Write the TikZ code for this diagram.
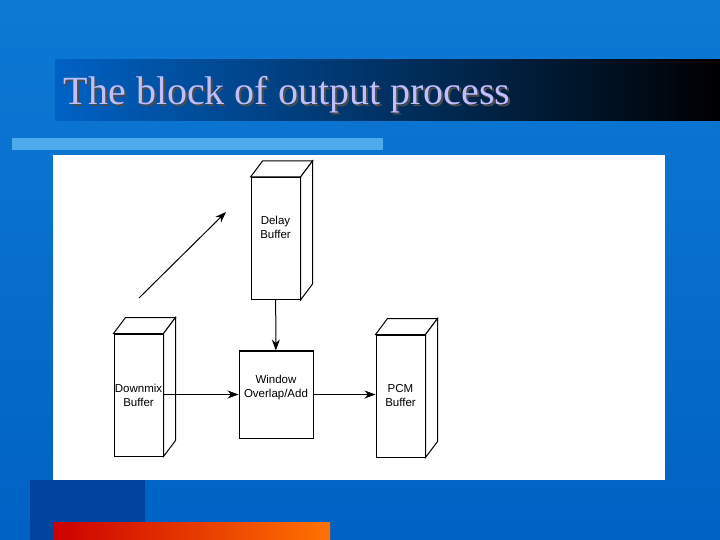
\documentclass[tikz,border=0pt]{standalone}
\usepackage{fontspec}
\setmainfont{Liberation Serif}
\newfontfamily\boxfont{Liberation Sans}
\usetikzlibrary{arrows.meta}
\definecolor{slideblue}{RGB}{0,98,196}
\definecolor{deepblue}{RGB}{0,60,150}
\definecolor{stripblue}{RGB}{30,150,230}
\tikzset{
front/.style={
  rectangle,
  draw,
  line width=1pt,
  fill=white,
  minimum width=49pt,
  minimum height=122pt,
  inner sep=0pt,
  align=center,
  font=\boxfont\fontsize{11.5}{14}\selectfont,
},
}
\newcommand{\depth}[1]{%
  \draw[fill=white, line width=1pt] (#1.north west) -- ++(12,-16) -- ([xshift=12pt,yshift=16pt]#1.north east) -- (#1.north east) -- cycle;
  \draw[fill=white, line width=1pt] (#1.north east) -- ++(12,-16) -- ([xshift=12pt,yshift=16pt]#1.south east) -- (#1.south east) -- cycle;
}
\begin{document}
\begin{tikzpicture}[x=1pt, y=-1pt, >={Stealth[length=11pt,width=8pt]}, line width=1pt]
\useasboundingbox (0,0) rectangle (720,540);
%slide background
\fill[top color=stripblue!45!slideblue, bottom color=slideblue] (0,0) rectangle (720,540);
\fill[deepblue!80!slideblue] (30,480) rectangle (145,540);
\shade[left color=slideblue, right color=black] (55,60) rectangle (720,121);
\fill[stripblue!80!white] (12,138) rectangle (383,150);
\shade[left color=red!80!black, right color=orange!90!red] (53,522) rectangle (330,540);
\node[anchor=west, text=black!70, font=\fontsize{40}{44}\selectfont](titleshadow) at (62,97) {The block of output process};
\node[anchor=west, text=white!75!blue, font=\fontsize{40}{44}\selectfont](title) at (60,95) {The block of output process};
%white panel
\fill[white] (53,155) rectangle (665,480);
%blocks
\node[front](delay) at (275.5,238.5) {Delay\\Buffer\\[8pt]};
\node[front](downmix) at (138.5,395) {Downmix\\Buffer};
\node[front](pcm) at (400.5,396) {PCM\\Buffer};
\depth{delay}
\depth{downmix}
\depth{pcm}
\node[front, minimum width=74pt, minimum height=87pt](window) at (276,394.5) {Window\\Overlap/Add\\[2pt]};
\draw[line width=2pt] (window.north west) -- (window.north east);
\coordinate (diagstart) at (139,298);
\coordinate (diagend) at (226,212);

\draw[->](delay) -- (window);
\draw[->](downmix.east |- window.west) -- (window.west);
\draw[->](window.east) -- (pcm.west |- window.east);
\draw[->](diagstart) -- (diagend);

\end{tikzpicture}
\end{document}
